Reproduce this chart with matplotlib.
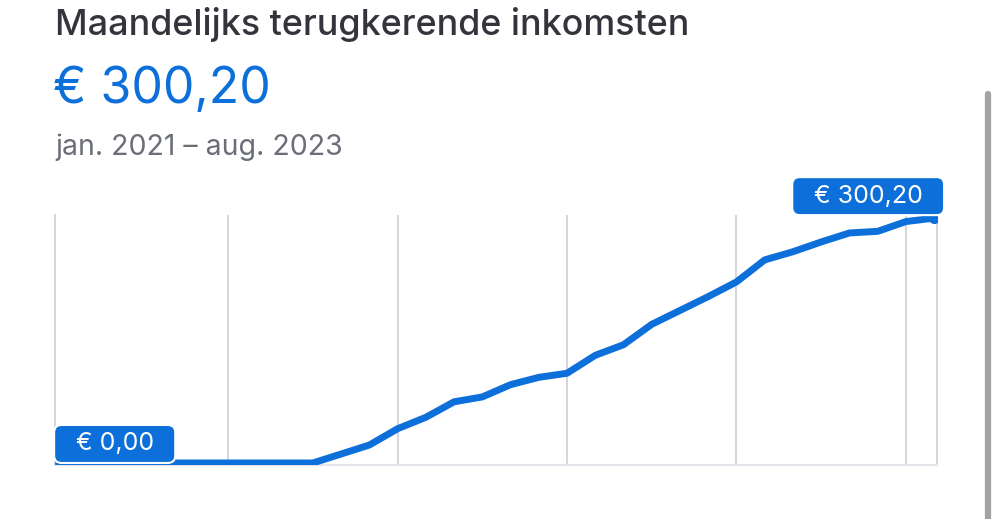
import matplotlib.pyplot as plt
from matplotlib.lines import Line2D

plt.rcParams['font.family'] = ['Inter', 'DejaVu Sans']

# maandelijkse waarden jan. 2021 - aug. 2023 (in euro)
months = list(range(32))
values = [0, 0, 0, 0, 0, 0, 0, 0, 0, 0,
          11, 22, 42, 56, 75, 81, 96, 105, 110, 132,
          145, 170, 187, 204, 222, 249, 259, 271, 282, 284,
          296, 300.2]
grid_months = [6, 12, 18, 24, 30]
title = "Maandelijks terugkerende inkomsten"
total_label = "€ 300,20"
period = "jan. 2021 – aug. 2023"
start_label = "€ 0,00"
end_label = "€ 300,20"

blue = "#0d6fd9"
gridc = "#d6d7de"

fig = plt.figure(figsize=(10, 5.19), dpi=100)
ax = fig.add_axes([0.055, 0.104, 0.882, 0.4817])

ax.plot(months, values, color=blue, lw=5, solid_joinstyle='round', solid_capstyle='projecting', zorder=3)
ax.plot(months[-1], values[-1], 'o', color=blue, ms=7, zorder=4)

ax.set_xlim(-0.13, 31.1)
ax.set_ylim(-2.5, 304)
ax.set_xticks(grid_months)
ax.set_yticks([])
ax.tick_params(axis='x', length=0, labelbottom=False)
ax.grid(axis='x', color=gridc, lw=1.5)
for s in ['left', 'right']:
    ax.spines[s].set_color(gridc)
    ax.spines[s].set_linewidth(1.5)
ax.spines['top'].set_visible(False)
ax.spines['bottom'].set_color("#e4e5ea")
ax.spines['bottom'].set_linewidth(1.5)

box = dict(boxstyle='round,pad=0.3,rounding_size=0.3', fc=blue, ec='white', lw=1.5)
ax.annotate("  " + start_label + "  ", (months[0], values[0]), xytext=(56, 19), textcoords='offset pixels',
            ha='center', va='center', color='white', fontsize=18, bbox=box, zorder=5)
ax.annotate("  " + end_label + "  ", (months[-1], values[-1]), xytext=(-66, 22), textcoords='offset pixels',
            ha='center', va='center', color='white', fontsize=18, bbox=box, zorder=5)

fig.text(0.055, 1 - 35 / 519, title, fontsize=25.8, color="#33343c", va='baseline', weight='medium')
fig.text(0.053, 1 - 103 / 519, total_label, fontsize=36, color=blue, va='baseline')
fig.text(0.055, 1 - 155 / 519, period, fontsize=20.5, color="#6b6e78", va='baseline')

# scrollbalk rechts
fig.add_artist(Line2D([0.988, 0.988], [1 - 94 / 519, -0.01], color="#a3a3a3", lw=4.5,
                      solid_capstyle='round', transform=fig.transFigure))

plt.savefig('out.png', dpi=100)
